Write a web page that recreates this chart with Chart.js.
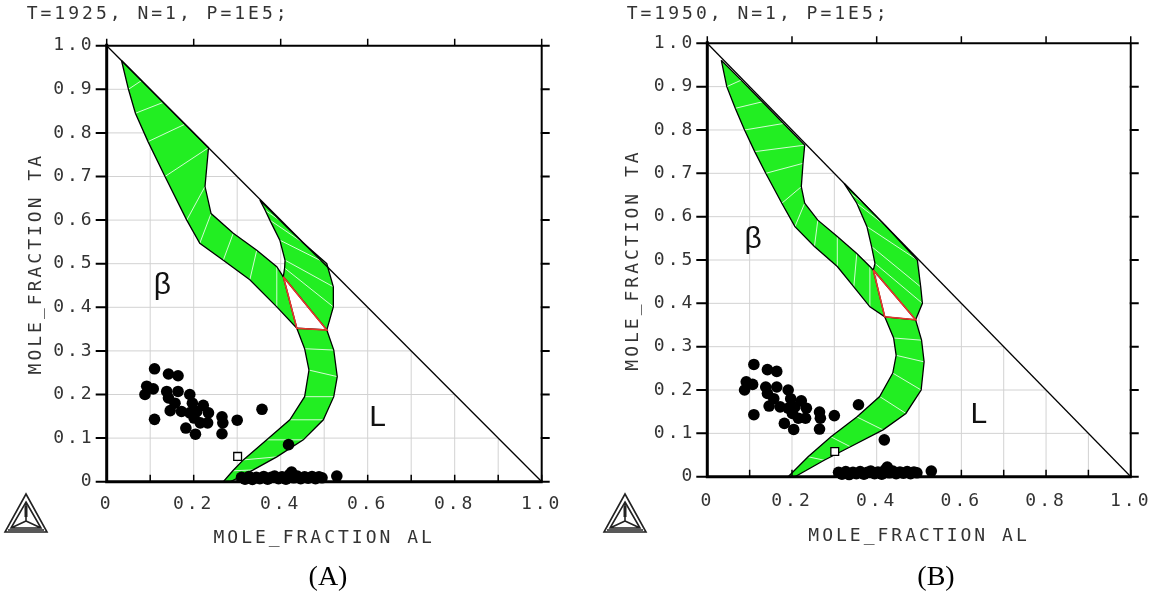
<!DOCTYPE html>
<html><head><meta charset="utf-8">
<script src="https://cdn.jsdelivr.net/npm/chart.js@4.4.1/dist/chart.umd.min.js"></script>
<style>
html,body{margin:0;padding:0;background:#fff;width:1161px;height:597px;overflow:hidden;}
#wa{position:absolute;left:0;top:0;width:600px;height:597px;}
#wb{position:absolute;left:600px;top:0;width:561px;height:597px;}
</style></head><body>
<div id="wa"><canvas id="ca" width="600" height="597"></canvas></div>
<div id="wb"><canvas id="cb" width="561" height="597"></canvas></div>
<script>
// ---------- data ----------
const titles = ['T=1925, N=1, P=1E5;', 'T=1950, N=1, P=1E5;'];
const panelLabels = ['(A)', '(B)'];
const axisTitleX = 'MOLE_FRACTION AL';
const axisTitleY = 'MOLE_FRACTION TA';
const phaseLabels = ['β', 'L'];
const xTickValues = [0, 0.2, 0.4, 0.6, 0.8, 1.0];
const xTickLabels = ['0', '0.2', '0.4', '0.6', '0.8', '1.0'];
const yTickValues = [0, 0.1, 0.2, 0.3, 0.4, 0.5, 0.6, 0.7, 0.8, 0.9, 1.0];
const yTickLabels = ['0', '0.1', '0.2', '0.3', '0.4', '0.5', '0.6', '0.7', '0.8', '0.9', '1.0'];
const gridValues = [0.1, 0.2, 0.3, 0.4, 0.5, 0.6, 0.7, 0.8, 0.9];
const binaryEdge = [[0, 1], [1, 0]];

// experimental alloy compositions (black dots)
const expAl = [0.110,0.142,0.164,0.092,0.107,0.088,0.138,0.164,0.142,0.191,0.197,0.157,0.222,0.146,0.172,0.191,0.207,0.234,0.357,0.110,0.201,0.215,0.232,0.265,0.267,0.300,0.182,0.204,0.265,0.418,
  0.310,0.318,0.327,0.335,0.344,0.352,0.361,0.370,0.378,0.386,0.395,0.403,0.412,0.420,0.425,0.430,0.438,0.446,0.455,0.463,0.472,0.480,0.488,0.495,0.529];
const expTa = [0.259,0.247,0.243,0.219,0.213,0.200,0.207,0.207,0.192,0.200,0.180,0.180,0.175,0.163,0.161,0.158,0.161,0.158,0.166,0.143,0.146,0.135,0.135,0.149,0.135,0.141,0.123,0.109,0.110,0.085,
  0.010,0.006,0.012,0.005,0.010,0.007,0.012,0.006,0.010,0.013,0.007,0.011,0.006,0.016,0.022,0.009,0.013,0.007,0.011,0.008,0.012,0.007,0.011,0.009,0.013];
// nominal composition (open square)
const refAl = [0.301];
const refTa = [0.058];

// (A) T=1925 phase boundaries
const aBand1Outer = [[0.034,0.966],[0.050,0.900],[0.066,0.845],[0.095,0.780],[0.134,0.700],[0.184,0.600],[0.214,0.547],[0.268,0.508],[0.329,0.463],[0.391,0.401],[0.437,0.352]];
const aBand1Inner = [[0.034,0.966],[0.080,0.920],[0.130,0.870],[0.180,0.820],[0.234,0.766],[0.226,0.677],[0.240,0.615],[0.291,0.570],[0.345,0.531],[0.391,0.493],[0.406,0.470]];
const aBand2Hole  = [[0.352,0.646],[0.364,0.623],[0.375,0.600],[0.398,0.554],[0.410,0.508],[0.409,0.490],[0.406,0.470]];
const aBand2Outer = [[0.352,0.646],[0.400,0.598],[0.450,0.549],[0.506,0.500],[0.521,0.447],[0.521,0.401],[0.506,0.348]];
const aBand3Left  = [[0.437,0.352],[0.455,0.305],[0.465,0.256],[0.455,0.195],[0.421,0.142],[0.368,0.096],[0.314,0.050],[0.290,0.025],[0.268,0.000]];
const aBand3Right = [[0.506,0.348],[0.522,0.302],[0.530,0.241],[0.522,0.195],[0.498,0.142],[0.452,0.096],[0.391,0.057],[0.337,0.027],[0.285,0.000]];
const aThreePhase = [[0.406,0.470],[0.437,0.352],[0.506,0.348],[0.406,0.470]];

// (B) T=1950 phase boundaries
const bBand1Outer = [[0.033,0.961],[0.046,0.900],[0.066,0.850],[0.088,0.800],[0.112,0.750],[0.138,0.700],[0.176,0.631],[0.207,0.577],[0.253,0.531],[0.307,0.485],[0.346,0.438],[0.384,0.392],[0.419,0.369]];
const bBand1Inner = [[0.033,0.961],[0.080,0.915],[0.130,0.865],[0.180,0.815],[0.230,0.765],[0.226,0.723],[0.222,0.669],[0.230,0.631],[0.261,0.592],[0.307,0.554],[0.353,0.515],[0.384,0.485],[0.392,0.477]];
const bBand2Hole  = [[0.323,0.677],[0.338,0.654],[0.353,0.631],[0.377,0.577],[0.388,0.531],[0.396,0.492],[0.392,0.477]];
const bBand2Outer = [[0.323,0.677],[0.370,0.630],[0.420,0.580],[0.496,0.500],[0.504,0.438],[0.508,0.400],[0.492,0.362]];
const bBand3Left  = [[0.419,0.369],[0.440,0.320],[0.446,0.280],[0.438,0.239],[0.407,0.185],[0.353,0.138],[0.292,0.092],[0.238,0.046],[0.191,0.000]];
const bBand3Right = [[0.492,0.362],[0.506,0.315],[0.512,0.265],[0.505,0.200],[0.469,0.146],[0.415,0.108],[0.338,0.069],[0.276,0.038],[0.207,0.000]];
const bThreePhase = [[0.392,0.477],[0.419,0.369],[0.492,0.362],[0.392,0.477]];

// label anchors (data units)
const aBetaAt = [0.128, 0.442], aLiqAt = [0.623, 0.147];
const bBetaAt = [0.108, 0.540], bLiqAt = [0.641, 0.142];

// ---------- helpers ----------
const pts = a => a.map(p => ({x: p[0], y: p[1]}));
const poly = (s1, s2) => pts(s1.concat(s2.slice().reverse()).concat([s1[0]]));
function ties(s1, s2) {
  const out = [];
  for (let i = 1; i < s1.length - 1; i++) {
    out.push({x: s1[i][0], y: s1[i][1]}, {x: s2[i][0], y: s2[i][1]}, {x: s2[i][0], y: null});
  }
  return out;
}
const MONO = '"DejaVu Sans Mono", monospace';
const TXT = '#333';
const GREEN = 'rgb(34,238,34)';

const panels = [
  {id: 'ca', title: titles[0], tag: panelLabels[0],
   bands: [[aBand1Outer, aBand1Inner], [aBand2Hole, aBand2Outer], [aBand3Left, aBand3Right]],
   red: aThreePhase, betaAt: aBetaAt, liqAt: aLiqAt,
   pad: {left: 0, top: 45.7, right: 58.3, bottom: 45.3}, yw: 106.7, xh: 70,
   xtp: 12, xtitleP: 3, ytitleP: 26, tagX: 328, tagY: 578, logoX: 26, logoY: 494},
  {id: 'cb', title: titles[1], tag: panelLabels[1],
   bands: [[bBand1Outer, bBand1Inner], [bBand2Hole, bBand2Outer], [bBand3Left, bBand3Right]],
   red: bThreePhase, betaAt: bBetaAt, liqAt: bLiqAt,
   pad: {left: 0, top: 43.3, right: 21.7, bottom: 50.3}, yw: 107.3, xh: 70,
   xtp: 14, xtitleP: 0, ytitleP: 23, tagX: 336, tagY: 578, logoX: 25, logoY: 494}
];

function makeDeco(p) {
  return {
    id: 'deco',
    beforeDraw(chart) { chart.ctx.letterSpacing = '3px'; },
    beforeDatasetsDraw(chart) {
      const ctx = chart.ctx, xs = chart.scales.x, ys = chart.scales.y;
      const X = v => xs.getPixelForValue(v), Y = v => ys.getPixelForValue(v);
      ctx.save();
      ctx.strokeStyle = '#d2d2d2'; ctx.lineWidth = 1;
      ctx.beginPath();
      gridValues.forEach(g => {
        ctx.moveTo(X(g), Y(0)); ctx.lineTo(X(g), Y(1 - g));
        ctx.moveTo(X(0), Y(g)); ctx.lineTo(X(1 - g), Y(g));
      });
      ctx.stroke();
      ctx.restore();
    },
    afterDatasetsDraw(chart) {
      const ctx = chart.ctx, xs = chart.scales.x, ys = chart.scales.y;
      const X = v => xs.getPixelForValue(v), Y = v => ys.getPixelForValue(v);
      ctx.save();
      ctx.strokeStyle = '#000';
      // top and right frame
      ctx.lineWidth = 2;
      ctx.beginPath();
      ctx.moveTo(X(0), Y(1)); ctx.lineTo(X(1), Y(1));
      ctx.moveTo(X(1), Y(1)); ctx.lineTo(X(1), Y(0));
      ctx.stroke();
      // right ticks
      ctx.beginPath();
      yTickValues.forEach(v => { ctx.moveTo(X(1) - 1, Y(v)); ctx.lineTo(X(1) + 8, Y(v)); });
      ctx.stroke();
      // top ticks
      ctx.lineWidth = 1.5;
      ctx.beginPath();
      xTickValues.forEach(v => { ctx.moveTo(X(v), Y(1)); ctx.lineTo(X(v), Y(1) - 7); });
      ctx.stroke();
      // bottom ticks (inward)
      ctx.beginPath();
      [0].concat(gridValues, [1]).forEach(v => { ctx.moveTo(X(v), Y(0)); ctx.lineTo(X(v), Y(0) - 7); });
      ctx.stroke();
      // left and bottom axis
      ctx.lineWidth = 3;
      ctx.beginPath();
      ctx.moveTo(X(0), Y(1) - 2); ctx.lineTo(X(0), Y(0) + 1.5);
      ctx.moveTo(X(0) - 1.5, Y(0)); ctx.lineTo(X(1) + 1, Y(0));
      ctx.stroke();
      // left ticks
      ctx.lineWidth = 2;
      ctx.beginPath();
      yTickValues.forEach(v => { ctx.moveTo(X(0) - 11, Y(v)); ctx.lineTo(X(0), Y(v)); });
      ctx.stroke();
      ctx.restore();
    },
    afterDraw(chart) {
      const ctx = chart.ctx, xs = chart.scales.x, ys = chart.scales.y;
      const X = v => xs.getPixelForValue(v), Y = v => ys.getPixelForValue(v);
      ctx.save();
      ctx.letterSpacing = '3px';
      ctx.font = '18px ' + MONO; ctx.fillStyle = TXT;
      ctx.textAlign = 'left'; ctx.textBaseline = 'middle';
      ctx.fillText(p.title, 26.7, 14);
      ctx.letterSpacing = '0px';
      ctx.font = '30px "Liberation Sans", Arial, sans-serif'; ctx.fillStyle = '#111';
      ctx.textAlign = 'center';
      ctx.fillText(phaseLabels[0], X(p.betaAt[0]), Y(p.betaAt[1]) - 3);
      ctx.fillText(phaseLabels[1], X(p.liqAt[0]), Y(p.liqAt[1]));
      ctx.font = '28px "Liberation Serif", "Times New Roman", serif'; ctx.fillStyle = '#000';
      ctx.fillText(p.tag, p.tagX, p.tagY);
      // Thermo-Calc logo
      const ax = p.logoX, ay = p.logoY, h = 38, w = 21;
      ctx.strokeStyle = '#222'; ctx.lineWidth = 1.6;
      ctx.beginPath();
      ctx.moveTo(ax, ay); ctx.lineTo(ax + w, ay + h); ctx.lineTo(ax - w, ay + h); ctx.closePath();
      ctx.moveTo(ax, ay + 8); ctx.lineTo(ax + w - 6, ay + h - 4); ctx.lineTo(ax - w + 6, ay + h - 4); ctx.closePath();
      const cy = ay + h - 11;
      ctx.moveTo(ax, ay + 8); ctx.lineTo(ax, cy);
      ctx.moveTo(ax, cy); ctx.lineTo(ax + w - 6, ay + h - 4);
      ctx.moveTo(ax, cy); ctx.lineTo(ax - w + 6, ay + h - 4);
      ctx.moveTo(ax - w + 3, ay + h - 2); ctx.lineTo(ax + w - 3, ay + h - 2);
      ctx.stroke();
      ctx.lineWidth = 3;
      ctx.beginPath(); ctx.moveTo(ax, ay + 12); ctx.lineTo(ax, cy - 4); ctx.stroke();
      ctx.restore();
    }
  };
}

function build(p) {
  const ds = [];
  ds.push({data: pts(refAl.map((v, i) => [v, refTa[i]])), showLine: false, pointStyle: 'rect',
           pointRadius: 5.5, pointBackgroundColor: '#fff', pointBorderColor: '#000', pointBorderWidth: 1.3, clip: false});
  ds.push({data: pts(expAl.map((v, i) => [v, expTa[i]])), showLine: false, pointStyle: 'circle',
           pointRadius: 5.8, pointBackgroundColor: '#000', pointBorderColor: '#000', pointBorderWidth: 0, clip: false});
  ds.push({data: pts(p.red), borderColor: '#e8362c', borderWidth: 1.6, pointRadius: 0, fill: false});
  p.bands.forEach(b => ds.push({data: poly(b[0], b[1]), borderColor: '#000', borderWidth: 1.3, pointRadius: 0, fill: false}));
  ds.push({data: pts(binaryEdge), borderColor: '#000', borderWidth: 1.3, pointRadius: 0, fill: false});
  p.bands.forEach(b => ds.push({data: ties(b[0], b[1]), borderColor: 'rgba(255,255,255,0.8)', borderWidth: 1, pointRadius: 0, fill: false, spanGaps: false}));
  p.bands.forEach(b => ds.push({data: poly(b[0], b[1]), borderWidth: 0, borderColor: 'rgba(0,0,0,0)', backgroundColor: GREEN, pointRadius: 0, fill: 'shape'}));

  const tickFont = {family: MONO, size: 18};
  new Chart(document.getElementById(p.id), {
    type: 'line',
    data: {datasets: ds},
    plugins: [makeDeco(p)],
    options: {
      responsive: false, animation: false, devicePixelRatio: 1,
      layout: {padding: p.pad},
      elements: {line: {tension: 0}, point: {radius: 0, hoverRadius: 0}},
      events: [],
      plugins: {legend: {display: false}, tooltip: {enabled: false}},
      scales: {
        x: {type: 'linear', min: 0, max: 1,
            grid: {display: false, drawTicks: false}, border: {display: false},
            afterBuildTicks: s => { s.ticks = xTickValues.map(v => ({value: v})); },
            ticks: {autoSkip: false, maxRotation: 0, padding: p.xtp, font: tickFont, color: TXT,
                    callback: (v, i) => xTickLabels[i]},
            title: {display: true, text: axisTitleX, font: tickFont, color: TXT, padding: {top: 0, bottom: p.xtitleP}},
            afterFit: s => { s.height = p.xh; }},
        y: {type: 'linear', min: 0, max: 1,
            grid: {display: false, drawTicks: false}, border: {display: false},
            afterBuildTicks: s => { s.ticks = yTickValues.map(v => ({value: v})); },
            ticks: {autoSkip: false, padding: 12, font: tickFont, color: TXT,
                    callback: (v, i) => yTickLabels[i]},
            title: {display: true, text: axisTitleY, font: tickFont, color: TXT, padding: {top: p.ytitleP, bottom: 0}},
            afterFit: s => { s.width = p.yw; }}
      }
    }
  });
}
panels.forEach(build);
</script>
</body></html>
